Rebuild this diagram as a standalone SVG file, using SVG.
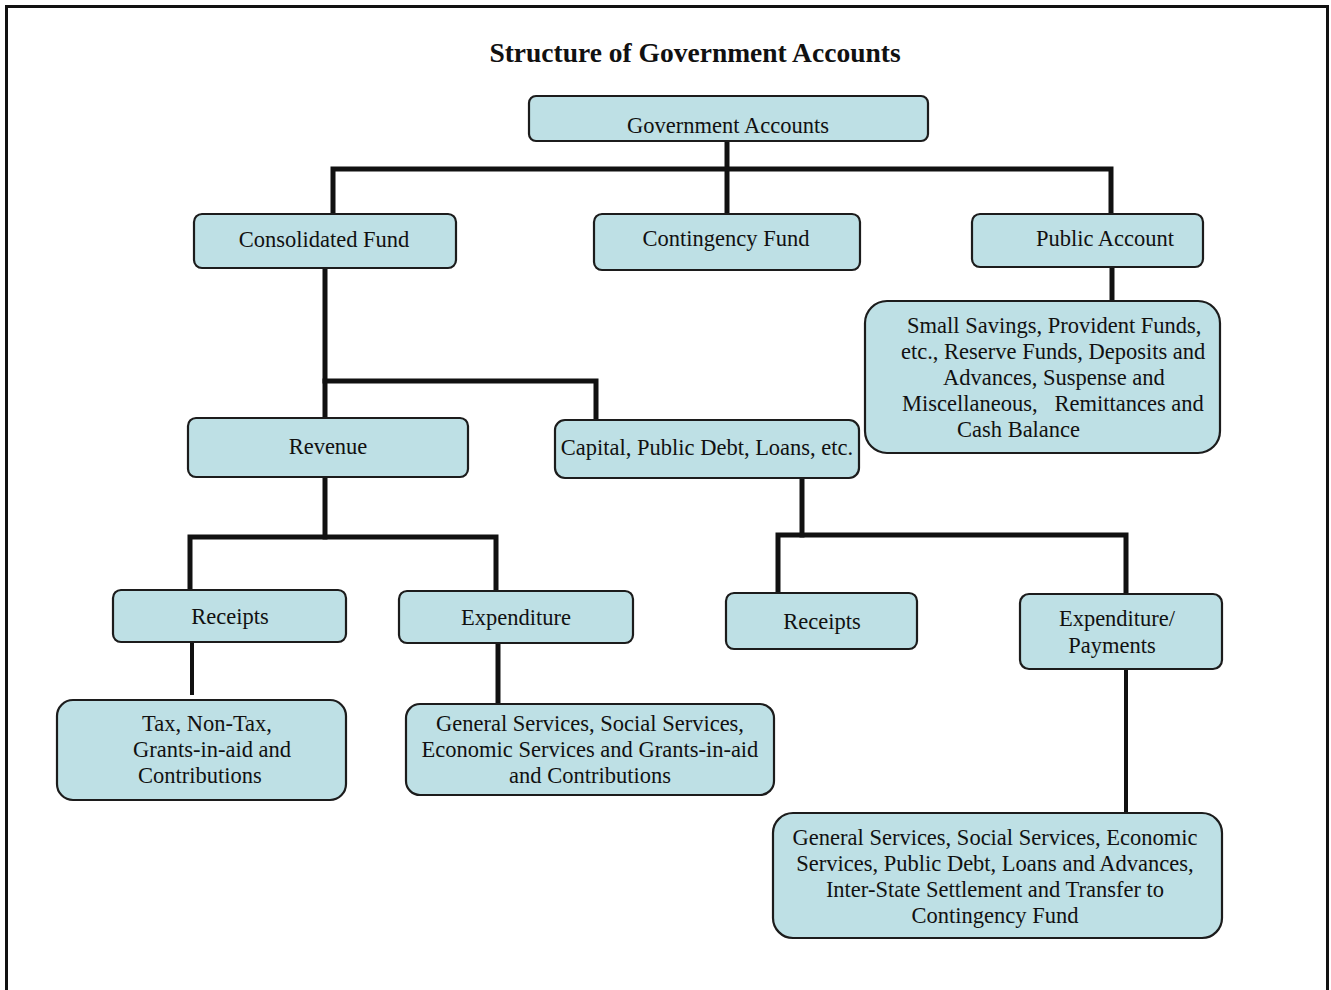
<svg xmlns="http://www.w3.org/2000/svg" width="1331" height="990" viewBox="0 0 1331 990">
<style>
.box{fill:#bee0e5;stroke:#1c1c1c;stroke-width:2.2}
.t{font-family:"Liberation Serif","Times New Roman",serif;font-size:22.5px;fill:#111;text-anchor:middle}
.ts{font-family:"Liberation Serif","Times New Roman",serif;font-size:22.5px;fill:#111}
.c{stroke:#111;stroke-width:5;fill:none;stroke-linecap:square}
.c2{stroke:#111;stroke-width:4;fill:none}
</style>
<rect width="1331" height="990" fill="#fff"/>
<g id="frame" fill="none" stroke="#111">
<line x1="5" y1="6.5" x2="1329" y2="6.5" stroke-width="3"/>
<line x1="6.5" y1="8" x2="6.5" y2="990" stroke-width="3"/>
<line x1="1327.5" y1="8" x2="1327.5" y2="990" stroke-width="3"/>
</g>
<text x="695" y="62" font-family="Liberation Serif,Times New Roman,serif" font-size="27.5" font-weight="bold" text-anchor="middle" fill="#111">Structure of Government Accounts</text>
<g id="connectors">
<line class="c" x1="727" y1="141" x2="727" y2="213"/>
<polyline class="c" points="333,213 333,169 1111,169 1111,213"/>
<line class="c" x1="1112" y1="267" x2="1112" y2="300"/>
<line class="c" x1="325" y1="268" x2="325" y2="417"/>
<polyline class="c" points="325,381 596,381 596,419"/>
<line class="c" x1="325" y1="477" x2="325" y2="537"/>
<polyline class="c" points="190,589 190,537 496,537 496,590"/>
<line class="c" x1="802" y1="478" x2="802" y2="535"/>
<polyline class="c" points="778,592 778,535 1126,535 1126,593"/>
<line class="c2" x1="192" y1="643" x2="192" y2="695"/>
<line class="c" x1="498" y1="644" x2="498" y2="703"/>
<line class="c2" x1="1126" y1="669" x2="1126" y2="813"/>
</g>
<g id="gov"><rect class="box" x="529" y="96" width="399" height="45" rx="7"/><text class="t" x="728" y="133">Government Accounts</text></g>
<g id="consolidated"><rect class="box" x="194" y="214" width="262" height="54" rx="8"/><text class="t" x="324" y="247">Consolidated Fund</text></g>
<g id="contingency"><rect class="box" x="594" y="214" width="266" height="56" rx="8"/><text class="t" x="726" y="246">Contingency Fund</text></g>
<g id="public"><rect class="box" x="972" y="214" width="231" height="53" rx="8"/><text class="t" x="1105" y="246">Public Account</text></g>
<g id="public-detail"><rect class="box" x="865" y="301" width="355" height="152" rx="22"/>
<text class="ts" x="907" y="333">Small Savings, Provident Funds,</text>
<text class="ts" x="901" y="359">etc., Reserve Funds, Deposits and</text>
<text class="ts" x="943" y="385">Advances, Suspense and</text>
<text class="ts" x="902" y="411" xml:space="preserve">Miscellaneous,   Remittances and</text>
<text class="ts" x="957" y="437">Cash Balance</text></g>
<g id="revenue"><rect class="box" x="188" y="418" width="280" height="59" rx="8"/><text class="t" x="328" y="454">Revenue</text></g>
<g id="capital"><rect class="box" x="555" y="420" width="304" height="58" rx="10"/><text class="t" x="707" y="455">Capital, Public Debt, Loans, etc.</text></g>
<g id="receipts1"><rect class="box" x="113" y="590" width="233" height="52" rx="8"/><text class="t" x="230" y="624">Receipts</text></g>
<g id="expenditure1"><rect class="box" x="399" y="591" width="234" height="52" rx="8"/><text class="t" x="516" y="625">Expenditure</text></g>
<g id="receipts2"><rect class="box" x="726" y="593" width="191" height="56" rx="8"/><text class="t" x="822" y="629">Receipts</text></g>
<g id="expenditure2"><rect class="box" x="1020" y="594" width="202" height="75" rx="9"/><text class="t" x="1117" y="626">Expenditure/</text><text class="t" x="1112" y="653">Payments</text></g>
<g id="tax"><rect class="box" x="57" y="700" width="289" height="100" rx="16"/>
<text class="ts" x="142" y="731">Tax, Non-Tax,</text>
<text class="ts" x="133" y="757">Grants-in-aid and</text>
<text class="ts" x="138" y="783">Contributions</text></g>
<g id="gen1"><rect class="box" x="406" y="704" width="368" height="91" rx="14"/>
<text class="t" x="590" y="731">General Services, Social Services,</text>
<text class="t" x="590" y="757">Economic Services and Grants-in-aid</text>
<text class="t" x="590" y="783">and Contributions</text></g>
<g id="gen2"><rect class="box" x="773" y="813" width="449" height="125" rx="20"/>
<text class="t" x="995" y="845">General Services, Social Services, Economic</text>
<text class="t" x="995" y="871">Services, Public Debt, Loans and Advances,</text>
<text class="t" x="995" y="897">Inter-State Settlement and Transfer to</text>
<text class="t" x="995" y="923">Contingency Fund</text></g>
</svg>
